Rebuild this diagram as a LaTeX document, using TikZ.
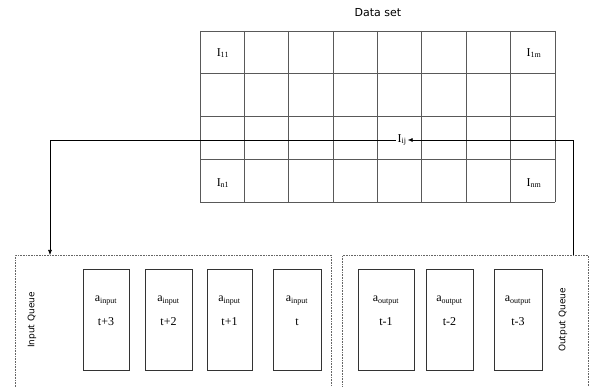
\documentclass[tikz,border=0pt]{standalone}
\usepackage{fontspec}
\setmainfont{Liberation Serif}
\setsansfont{DejaVu Sans}
\usepackage{tikz}
\usetikzlibrary{arrows.meta, positioning}

\begin{document}
\begin{tikzpicture}[
    x=1pt, y=-1pt,
    gridline/.style={draw=black!65, line width=0.8pt},
    cell/.style={font=\large, inner sep=1pt},
    queue/.style={rectangle, draw=black!60, densely dotted, line width=0.6pt,
                  anchor=north west, minimum height=160pt},
    slot/.style={rectangle, draw=black!80, line width=0.6pt, align=center,
                 minimum height=101pt, font=\large},
    qlabel/.style={rotate=90, font=\sffamily\small},
    arrow/.style={-{Latex[length=5pt,width=4pt]}, line width=0.6pt},
]
\clip (0,0) rectangle (590,387);

% data set grid
\node[font=\sffamily\fontsize{11}{13}\selectfont] (title) at (378,13) {Data set};
\foreach \i in {0,...,8}
  \draw[gridline] (200+44.375*\i,31) -- (200+44.375*\i,202);
\foreach \j in {0,...,4}
  \draw[gridline] (200,31+42.75*\j) -- (555,31+42.75*\j);

\node[cell] (i11) at (223,53)  {I$_{\mathrm{11}}$};
\node[cell] (i1m) at (534,53)  {I$_{\mathrm{1m}}$};
\node[cell] (in1) at (223,183) {I$_{\mathrm{n1}}$};
\node[cell] (inm) at (534,183) {I$_{\mathrm{nm}}$};
\node[cell, fill=white] (iij) at (402,140) {I$_{\mathrm{ij}}$};

% queues
\node[queue, minimum width=316pt] (inq)  at (15,255)  {};
\node[queue, minimum width=246pt] (outq) at (342,255) {};
\node[qlabel] (inlab)  at (32,320)  {Input Queue};
\node[qlabel] (outlab) at (563,320) {Output Queue};

\node[slot, minimum width=46pt] (in3) at (106,319.5)   {a$_{\mathrm{input}}$\\[10pt]t+3\\[4pt]};
\node[slot, minimum width=47pt] (in2) at (168.5,319.5) {a$_{\mathrm{input}}$\\[10pt]t+2\\[4pt]};
\node[slot, minimum width=45pt] (in1s) at (229.5,319.5){a$_{\mathrm{input}}$\\[10pt]t+1\\[4pt]};
\node[slot, minimum width=48pt] (in0) at (297,319.5)   {a$_{\mathrm{input}}$\\[10pt]t\\[4pt]};

\node[slot, minimum width=56pt] (out1) at (386,319.5)   {a$_{\mathrm{output}}$\\[10pt]t-1\\[4pt]};
\node[slot, minimum width=47pt] (out2) at (449.5,319.5) {a$_{\mathrm{output}}$\\[10pt]t-2\\[4pt]};
\node[slot, minimum width=48pt] (out3) at (518,319.5)   {a$_{\mathrm{output}}$\\[10pt]t-3\\[4pt]};

% links
\coordinate (intop)  at (50,255);
\coordinate (outtop) at (573,255);
\draw[arrow] (outtop) |- (iij.east);
\draw[arrow] (iij.west) -| (intop);
\end{tikzpicture}
\end{document}
